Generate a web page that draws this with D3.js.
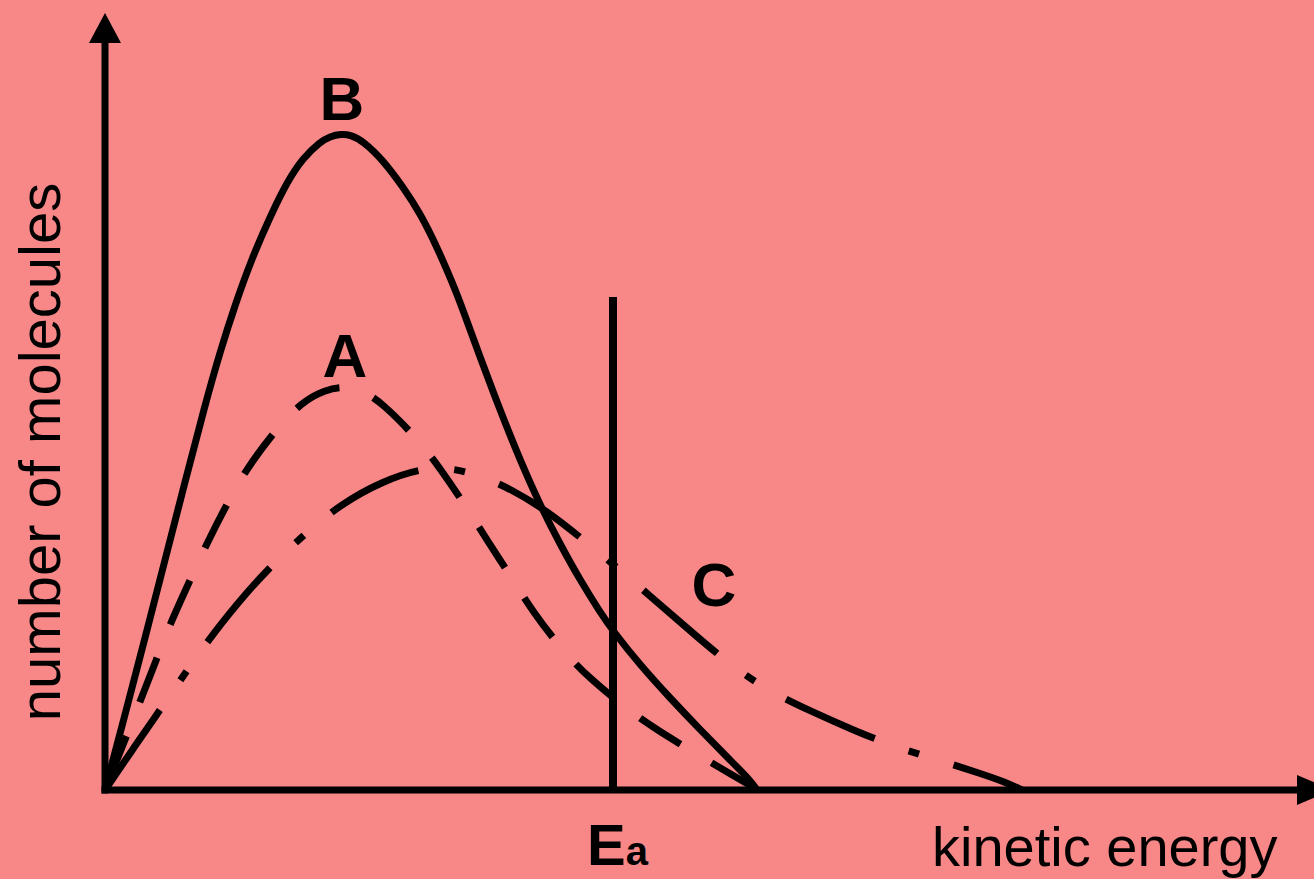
<!DOCTYPE html>
<html>
<head>
<meta charset="utf-8">
<script src="https://cdn.jsdelivr.net/npm/d3@7/dist/d3.min.js"></script>
<style>
  body { margin: 0; background: #f88888; }
  svg { display: block; }
  text { font-family: "Liberation Sans", Arial, Helvetica, sans-serif; fill: #000; }
</style>
</head>
<body>
<div id="chart"></div>
<script>
// energy (arbitrary units) / number of molecules (arbitrary units)
const curveA = [
  [0, 0], [3.5, 8.8], [5.2, 13.2], [6.5, 16.6], [8.7, 21.4], [10.2, 24.7], [12.3, 28.8],
  [14.2, 32.2], [17.2, 36.2], [19.7, 38.8], [22, 40], [24, 40.4], [26, 39.8], [27.7, 38.7],
  [31.2, 35.2], [33.5, 32.2], [36.2, 28.2], [38.2, 25], [40.8, 21], [42.8, 17.8],
  [45.8, 13.9], [48.3, 11.3], [52.3, 8], [55.2, 6], [59.5, 3.4], [62.7, 1.5], [64.8, 0.3]
];
const curveB = [
  [0, 0], [2, 7.5], [4, 15.2], [6, 23], [8, 30.8], [10, 38.5], [11.5, 43.8], [13, 48.5],
  [14.7, 53.2], [16.5, 57.3], [18.2, 60.8], [19.8, 63.2], [21.5, 64.8], [22.5, 65.35],
  [23.6, 65.6], [24.6, 65.5], [25.8, 64.9], [27.8, 63], [29.8, 60.3], [31.5, 57.7],
  [33.2, 54.3], [34.8, 50.6], [35.8, 48], [37.5, 43.3], [39.5, 38], [41.5, 33],
  [43.5, 28.5], [45.5, 24.6], [47.5, 21], [49.5, 17.8], [50.8, 15.9], [53.5, 12.5],
  [56.5, 9.2], [59.5, 6.05], [62.5, 3], [64.5, 1], [65.2, 0]
];
const curveC = [
  [0, 0], [3, 4.4], [5.7, 8.3], [8.5, 12.4], [10.8, 15.6], [14, 19.6], [17.2, 23],
  [20.2, 25.8], [23.5, 28.5], [27.5, 30.8], [32.5, 32.5], [36.8, 31.8], [40.8, 30],
  [44.2, 27.9], [47.5, 25.3], [52.1, 21.5], [55.3, 18.7], [59, 15.5], [62.8, 12.3],
  [66.4, 9.9], [70.3, 8], [74.8, 6], [79.3, 4.2], [83.4, 3], [87.7, 1.6], [90, 0.8], [91.7, 0]
];
const curveNames = ['A', 'B', 'C'];
const activationEnergy = 50.8;
const activationHeight = 49.3;

const width = 1314;
const height = 879;

const x = d3.scaleLinear().domain([0, 120]).range([105, 1305]);
const y = d3.scaleLinear().domain([0, 78]).range([790, 10]);

const svg = d3.select('#chart').append('svg')
  .attr('width', width).attr('height', height);

svg.append('rect').attr('width', width).attr('height', height).attr('fill', '#f88888');

const line = d3.line()
  .x(d => x(d[0]))
  .y(d => y(d[1]))
  .curve(d3.curveBasis);

/// dash pattern for each curve
const styles = {
  A: { dash: '48,36', offset: 74 },
  B: { dash: null, offset: 0 },
  C: { dash: '97,36,11,36', offset: 0 }
};
const curves = { A: curveA, B: curveB, C: curveC };

curveNames.forEach(function(name) {
  svg.append('path')
    .datum(curves[name])
    .attr('d', line)
    .attr('fill', 'none')
    .attr('stroke', '#000')
    .attr('stroke-width', 7)
    .attr('stroke-linejoin', 'round')
    .attr('stroke-dasharray', styles[name].dash)
    .attr('stroke-dashoffset', styles[name].offset);
});

/// activation energy line
svg.append('line')
  .attr('x1', x(activationEnergy)).attr('x2', x(activationEnergy))
  .attr('y1', y(0)).attr('y2', y(activationHeight))
  .attr('stroke', '#000').attr('stroke-width', 8);

/// axes with arrows
const x0 = x(0), y0 = y(0);
svg.append('line')
  .attr('x1', x0).attr('x2', x0)
  .attr('y1', y0 + 3.5).attr('y2', 43)
  .attr('stroke', '#000').attr('stroke-width', 7);
svg.append('path')
  .attr('d', `M${x0 - 16},43 L${x0 + 16},43 L${x0},13 Z`)
  .attr('fill', '#000');

svg.append('line')
  .attr('x1', x0 - 3.5).attr('x2', 1298)
  .attr('y1', y0).attr('y2', y0)
  .attr('stroke', '#000').attr('stroke-width', 7);
svg.append('path')
  .attr('d', `M1297,${y0 - 15} L1297,${y0 + 15} L1332,${y0} Z`)
  .attr('fill', '#000');

/// curve labels
const labelPos = { A: [345, 377], B: [342, 120], C: [714, 606] };
curveNames.forEach(function(name) {
  svg.append('text')
    .attr('x', labelPos[name][0])
    .attr('y', labelPos[name][1])
    .attr('text-anchor', 'middle')
    .attr('font-size', 62)
    .attr('font-weight', 'bold')
    .text(name);
});

/// axis titles
svg.append('text')
  .attr('transform', 'translate(60,452) rotate(-90)')
  .attr('text-anchor', 'middle')
  .attr('font-size', 58)
  .text('number of molecules');

svg.append('text')
  .attr('x', 932).attr('y', 866)
  .attr('font-size', 56)
  .text('kinetic energy');

const ea = svg.append('text')
  .attr('x', 587).attr('y', 865)
  .attr('font-size', 58)
  .attr('font-weight', 'bold');
ea.append('tspan').text('E');
ea.append('tspan').attr('font-size', 40).text('a');
</script>
</body>
</html>
